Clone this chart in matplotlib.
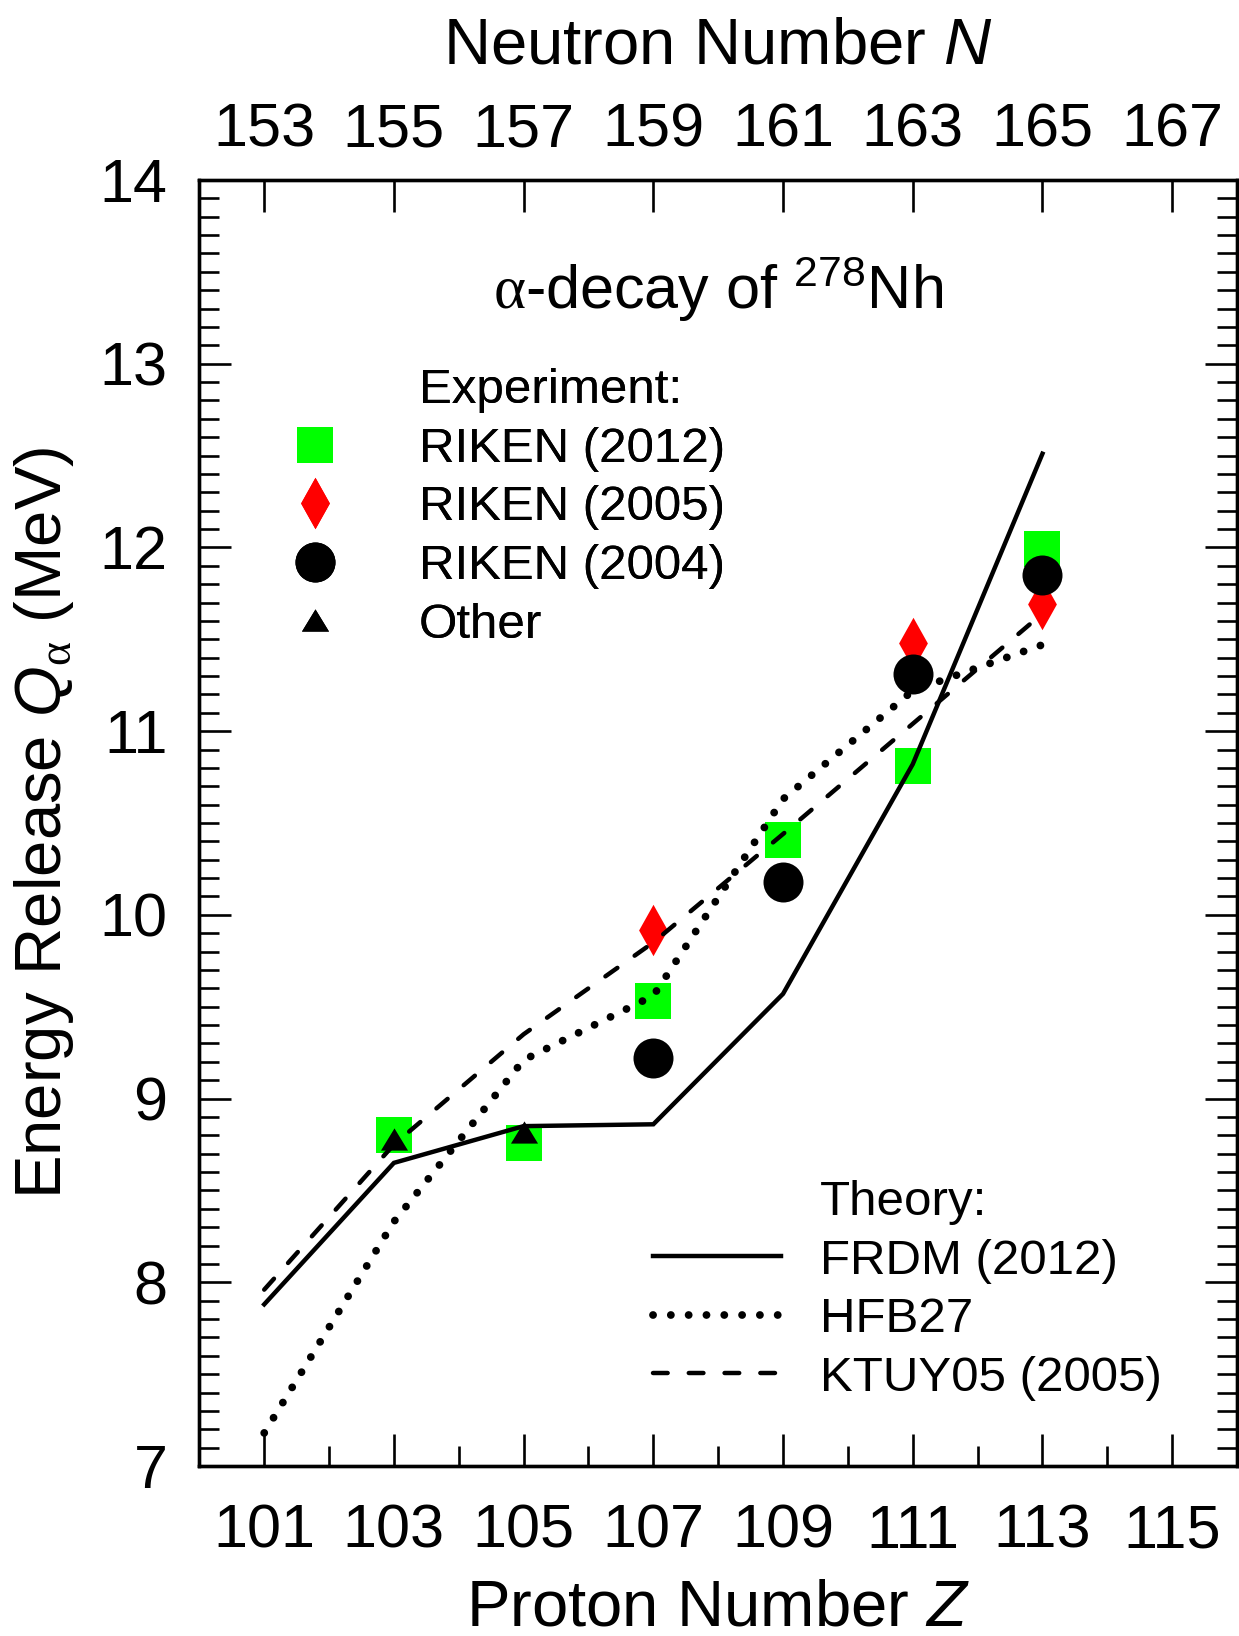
import matplotlib
matplotlib.use("Agg")
import matplotlib.pyplot as plt
from matplotlib.lines import Line2D
from matplotlib.ticker import MultipleLocator, NullLocator

plt.rcParams['font.family'] = ['Liberation Sans', 'DejaVu Sans']
plt.rcParams['mathtext.fontset'] = 'custom'
plt.rcParams['mathtext.rm'] = 'Liberation Sans'
plt.rcParams['mathtext.it'] = 'Liberation Sans:italic'
plt.rcParams['mathtext.bf'] = 'Liberation Sans:bold'
plt.rcParams['mathtext.sf'] = 'Liberation Serif'

# ---------------- data ----------------
Z_theory = [101, 103, 105, 107, 109, 111, 113]
frdm2012 = [7.88, 8.65, 8.85, 8.86, 9.57, 10.82, 12.51]
hfb27 = [7.18, 8.33, 9.21, 9.56, 10.63, 11.22, 11.47]
ktuy05 = [7.96, 8.75, 9.35, 9.85, 10.44, 11.04, 11.64]

Z_riken2012 = [103, 105, 107, 109, 111, 113]
Q_riken2012 = [8.80, 8.76, 9.53, 10.41, 10.81, 11.99]
Z_riken2005 = [107, 111, 113]
Q_riken2005 = [9.92, 11.48, 11.69]
Z_riken2004 = [107, 109, 111, 113]
Q_riken2004 = [9.22, 10.18, 11.31, 11.85]
Z_other = [103, 105]
Q_other = [8.78, 8.82]

Z_ticks = [101, 103, 105, 107, 109, 111, 113, 115]
N_labels = ['153', '155', '157', '159', '161', '163', '165', '167']
Q_ticks = [7, 8, 9, 10, 11, 12, 13, 14]

# ---------------- styles ----------------
GREEN = '#00ff00'
RED = '#ff0000'
diamond = [(-0.56, 0), (0, 1), (0.56, 0), (0, -1), (-0.56, 0)]
triangle = [(-1, -0.82), (1, -0.82), (0, 0.82), (-1, -0.82)]
sq_kw = dict(ls='none', marker='s', ms=25.5, color=GREEN, mew=0)
di_kw = dict(ls='none', marker=diamond, ms=37, color=RED, mew=0)
ci_kw = dict(ls='none', marker='o', ms=28.8, color='black', mew=0)
tr_kw = dict(ls='none', marker=triangle, ms=19.5, color='black', mew=0)
LW = 3.2
solid_kw = dict(color='black', lw=LW, ls='-', solid_joinstyle='miter')
dot_kw = dict(color='black', lw=5.6, ls=(0, (0.01, 2.28)), dash_capstyle='round')
dash_kw = dict(color='black', lw=LW, ls=(0, (3.3, 4.75)), dash_capstyle='round')

fig = plt.figure(figsize=(12.39, 16.36), dpi=100)
ax = fig.add_axes([0.1609, 0.1039, 0.8375, 0.7861])

# markers
ax.plot(Z_riken2012, Q_riken2012, zorder=2, **sq_kw)
ax.plot(Z_riken2005, Q_riken2005, zorder=2, **di_kw)
ax.plot(Z_riken2004, Q_riken2004, zorder=2, **ci_kw)
ax.plot(Z_other, Q_other, zorder=3, **tr_kw)
# theory lines
ax.plot(Z_theory, frdm2012, zorder=4, **solid_kw)
ax.plot(Z_theory, hfb27, zorder=4, **dot_kw)
ax.plot(Z_theory, ktuy05, zorder=4, **dash_kw)

ax.set_xlim(100, 116)
ax.set_ylim(7, 14)
ax.set_xticks(Z_ticks)
ax.xaxis.set_minor_locator(MultipleLocator(1))
ax.set_yticks(Q_ticks)
ax.yaxis.set_minor_locator(MultipleLocator(0.1))
ax.tick_params(which='both', direction='in', top=False, right=True, width=1.9,
               labelsize=44)
ax.tick_params(which='major', length=23)
ax.tick_params(which='minor', length=14.4)
ax.tick_params(axis='x', pad=27)
ax.tick_params(axis='y', pad=23)
for s in ax.spines.values():
    s.set_linewidth(2.4)

ax.set_xlabel('Proton Number $Z$', fontsize=47, labelpad=13)
ax.set_ylabel(r'Energy Release $Q_{\mathsf{\alpha}}$ (MeV)', fontsize=47, labelpad=17)

# top axis
axt = ax.twiny()
axt.set_xlim(ax.get_xlim())
axt.set_xticks(Z_ticks)
axt.set_xticklabels(N_labels)
axt.xaxis.set_minor_locator(NullLocator())
axt.tick_params(direction='in', length=23, width=1.9, labelsize=44, pad=15)
axt.set_xlabel('Neutron Number $N$', fontsize=47, labelpad=28)
for s in axt.spines.values():
    s.set_linewidth(2.4)

ax.text(0.5, 0.9, r'$\mathsf{\alpha}$-decay of $^{278}$Nh', transform=ax.transAxes,
        ha='center', va='baseline', fontsize=44)

# legends
blank = Line2D([], [], ls='none', marker=None)
exp_handles = [blank, Line2D([], [], **sq_kw), Line2D([], [], **di_kw),
               Line2D([], [], **ci_kw), Line2D([], [], **tr_kw)]
exp_labels = ['Experiment:', 'RIKEN (2012)', 'RIKEN (2005)', 'RIKEN (2004)', 'Other']
FS = 35.5
leg_kw = dict(fontsize=FS, handlelength=2.67 * 34.5 / FS, handletextpad=0.82 * 34.5 / FS,
              labelspacing=0.275,
              frameon=False, borderaxespad=0, borderpad=0, numpoints=1, loc='upper left')
leg1 = ax.legend(exp_handles, exp_labels, bbox_to_anchor=(0.0502, 0.8535), **leg_kw)
ax.add_artist(leg1)

th_handles = [blank, Line2D([], [], **solid_kw), Line2D([], [], **dot_kw),
              Line2D([], [], **dash_kw)]
th_labels = ['Theory:', 'FRDM (2012)', 'HFB27', 'KTUY05 (2005)']
leg2 = axt.legend(th_handles, th_labels, bbox_to_anchor=(0.4372, 0.2224), **leg_kw)

fig.savefig('out.png', dpi=100)
